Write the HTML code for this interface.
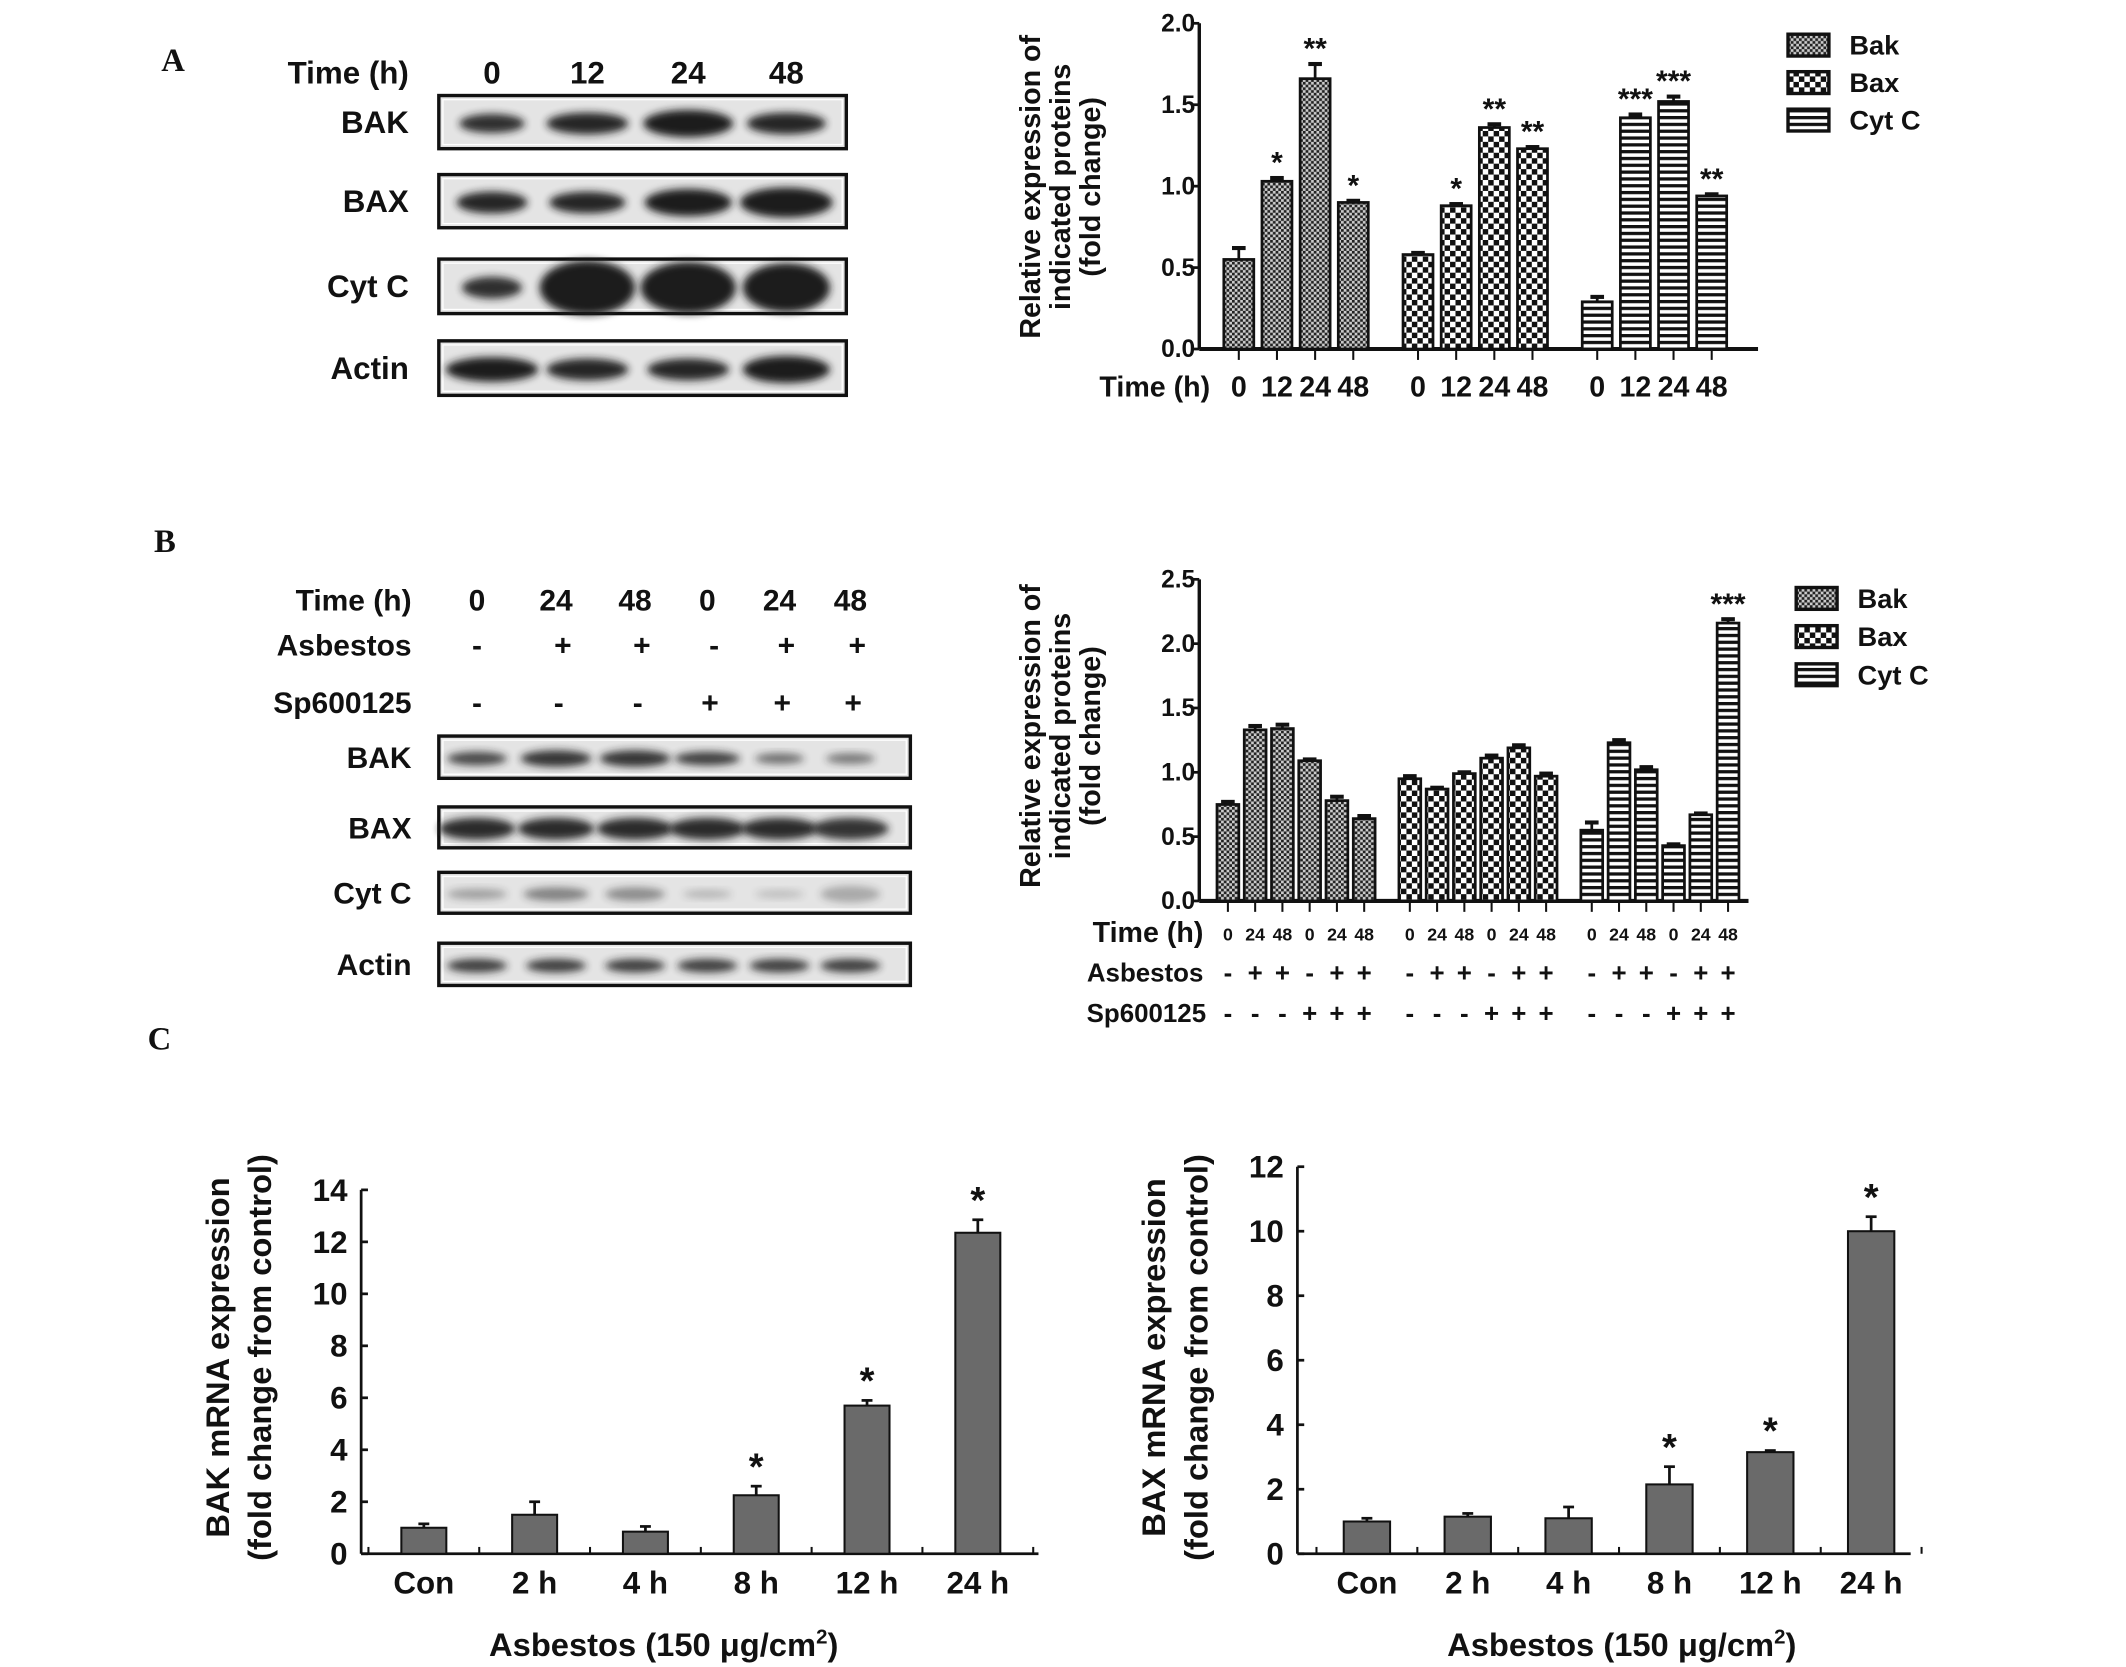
<!DOCTYPE html>
<html><head><meta charset="utf-8"><style>
html,body{margin:0;padding:0;background:#fff}
svg{display:block}
text{font-family:"Liberation Sans Narrow","Liberation Sans",Arial,sans-serif;font-weight:bold;fill:#111}
.w{font-family:"Liberation Sans",Arial,sans-serif}
</style></head><body>
<svg id="fig" xmlns="http://www.w3.org/2000/svg" width="2126" height="1667" viewBox="0 0 1560 1223">
<defs>
<pattern id="pBak" width="4" height="4" patternUnits="userSpaceOnUse"><rect width="4" height="4" fill="#ccc"/><rect width="2" height="2" fill="#222"/><rect x="2" y="2" width="2" height="2" fill="#222"/></pattern>
<pattern id="pBax" width="8" height="8" patternUnits="userSpaceOnUse"><rect width="8" height="8" fill="#fff"/><rect width="4" height="4" fill="#111"/><rect x="4" y="4" width="4" height="4" fill="#111"/></pattern>
<pattern id="pCyt" width="4" height="5" patternUnits="userSpaceOnUse"><rect width="4" height="5" fill="#fff"/><rect width="4" height="2.4" fill="#111"/></pattern>
<filter id="blur" x="-20%" y="-50%" width="140%" height="200%"><feGaussianBlur stdDeviation="3"/></filter>
</defs>
<g id="root"></g>
</svg>
<script>
// ---------- Panel A chart data ----------
const aGroups = ['Bak','Bax','Cyt C'];
const aTimes = ['0','12','24','48'];
const aBak = [0.55, 1.03, 1.66, 0.90];
const aBax = [0.58, 0.88, 1.36, 1.23];
const aCyt = [0.29, 1.42, 1.52, 0.94];
const aBakErr = [0.07, 0.02, 0.09, 0.01];
const aBaxErr = [0.01, 0.01, 0.02, 0.01];
const aCytErr = [0.03, 0.02, 0.03, 0.01];
const aBakSig = ['', '*', '**', '*'];
const aBaxSig = ['', '*', '**', '**'];
const aCytSig = ['', '***', '***', '**'];
const aTicks = ['0.0','0.5','1.0','1.5','2.0'];
// ---------- Panel B chart data ----------
const bTimes = ['0','24','48','0','24','48'];
const bAsb = ['-','+','+','-','+','+'];
const bSp = ['-','-','-','+','+','+'];
const bBak = [0.75, 1.33, 1.34, 1.09, 0.78, 0.64];
const bBax = [0.95, 0.87, 0.99, 1.11, 1.19, 0.97];
const bCyt = [0.55, 1.23, 1.02, 0.43, 0.67, 2.16];
const bBakErr = [0.02, 0.03, 0.03, 0.01, 0.03, 0.02];
const bBaxErr = [0.02, 0.01, 0.01, 0.02, 0.02, 0.02];
const bCytErr = [0.06, 0.02, 0.02, 0.01, 0.01, 0.03];
const bCytSig = ['', '', '', '', '', '***'];
const bTicks = ['0.0','0.5','1.0','1.5','2.0','2.5'];
// ---------- Panel C data ----------
const cCats = ['Con','2 h','4 h','8 h','12 h','24 h'];
const cBak = [1.0, 1.5, 0.85, 2.25, 5.7, 12.35];
const cBakErr = [0.15, 0.5, 0.2, 0.35, 0.2, 0.5];
const cBax = [1.0, 1.15, 1.1, 2.15, 3.15, 10.0];
const cBaxErr = [0.1, 0.1, 0.35, 0.55, 0.05, 0.45];
const cSig = ['', '', '', '*', '*', '*'];
const cBakTicks = [0,2,4,6,8,10,12,14];
const cBaxTicks = [0,2,4,6,8,10,12];

const NS='http://www.w3.org/2000/svg';
const root=document.getElementById('root');
function el(tag,attrs,parent,txt){const e=document.createElementNS(NS,tag);for(const k in attrs)e.setAttribute(k,attrs[k]);if(txt!==undefined)e.textContent=txt;(parent||root).appendChild(e);return e;}
function txt(x,y,s,size,anchor,parent,cls){const t=el('text',{x:x,y:y,'font-size':size,'text-anchor':anchor||'middle'},parent,s);if(cls)t.setAttribute('class',cls);return t;}

const la=txt(127,52,'A',24,'middle',root);la.setAttribute('style','font-family:"Liberation Serif",serif');


const lb=txt(121,405,'B',24,'middle',root);lb.setAttribute('style','font-family:"Liberation Serif",serif');


const lc=txt(117,770,'C',24,'middle',root);lc.setAttribute('style','font-family:"Liberation Serif",serif');



function blot(x0,x1,y0,y1,lanes,bands,name,dark){
  const g=el('g',{});
  
  
  el('rect',{x:x0,y:y0,width:x1-x0,height:y1-y0,fill:'#e4e4e4',stroke:'#111','stroke-width':2.5},g);
  el('rect',{x:x0+3,y:y0+3,width:x1-x0-6,height:y1-y0-6,fill:'none',stroke:'#fff','stroke-width':1},g);
  const cy=(y0+y1)/2;
  lanes.forEach((lx,i)=>{
    const b=bands[i];
    el('ellipse',{cx:lx,cy:cy+1,rx:b[0],ry:b[1],fill:dark,opacity:b[2],filter:'url(#blur)'},g);
  });
}
const aL=[361,431,505,577];
txt(300,61,'Time (h)',23,'end');
aTimes.forEach((t,i)=>txt(aL[i],61,t,23));
[['BAK',70,109,[[24,7,.9],[30,8,.95],[33,10,1],[29,8,.95]]],
 ['BAX',128,167,[[26,8,.95],[28,8,.95],[32,10,1],[34,11,1]]],
 ['Cyt C',190,230,[[22,8,.9],[35,20,1],[35,19,1],[32,18,1]]],
 ['Actin',250,290,[[34,9,1],[30,8,.95],[30,8,.95],[32,10,1]]]].forEach(r=>{
  txt(300,(r[1]+r[2])/2+8,r[0],23,'end');
  blot(322,621,r[1],r[2],aL,r[3],'blot-a-'+r[0].toLowerCase().replace(' ',''),'#1a1a1a');
});
const bL=[350,408,466,519,572,624];
txt(302,448,'Time (h)',22,'end');
bTimes.forEach((t,i)=>txt(bL[i],448,t,22));
txt(302,481,'Asbestos',22,'end');
bAsb.forEach((t,i)=>txt(bL[i]+(i?5:0),481,t,22));
txt(302,523,'Sp600125',22,'end');
bSp.forEach((t,i)=>txt(bL[i]+(i?2:0),523,t,22));
[['BAK',540,571,[[22,5,.8],[26,6,.9],[26,6,.9],[24,5,.85],[18,4,.6],[18,4,.55]]],
 ['BAX',592,622,[[28,8,.95],[28,8,.95],[28,8,.95],[28,8,.95],[28,8,.95],[28,8,.9]]],
 ['Cyt C',640,670,[[22,4,.35],[24,5,.5],[22,5,.45],[18,3,.25],[18,3,.2],[22,6,.3]]],
 ['Actin',692,723,[[22,5,.85],[22,5,.85],[22,5,.85],[22,5,.85],[22,5,.85],[22,5,.85]]]].forEach(r=>{
  txt(302,(r[1]+r[2])/2+8,r[0],22,'end');
  blot(322,668,r[1],r[2],bL,r[3],'blot-b-'+r[0].toLowerCase().replace(' ',''),'#222');
});

function groupedChart(cfg){
  const g=el('g',{});
  
  
  const y=v=>cfg.y0-(v/cfg.max)*(cfg.y0-cfg.yTop);
  const x=(gi,i)=>cfg.x0+gi*cfg.gStep+i*cfg.bStep;
  el('line',{x1:cfg.ax,y1:cfg.yTop,x2:cfg.ax,y2:cfg.y0,stroke:'#111','stroke-width':2.5},g);
  cfg.ticks.forEach(t=>{const v=parseFloat(t);
    el('line',{x1:cfg.ax-5,y1:y(v),x2:cfg.ax,y2:y(v),stroke:'#111','stroke-width':2},g);
    txt(cfg.ax-3,y(v)+6,t,18,'end',g);});
  el('line',{x1:cfg.ax,y1:cfg.y0,x2:cfg.axEnd,y2:cfg.y0,stroke:'#111','stroke-width':3},g);
  const pats=['url(#pBak)','url(#pBax)','url(#pCyt)'];
  cfg.series.forEach((s,gi)=>{
    s.vals.forEach((v,i)=>{
      const cx=x(gi,i);
      const bar=el('rect',{x:cx-cfg.bw/2,y:y(v),width:cfg.bw,height:cfg.y0-y(v),fill:pats[gi],stroke:'#111','stroke-width':2},g);
      
      
      const e=s.err[i];
      el('line',{x1:cx,y1:y(v),x2:cx,y2:y(v+e),stroke:'#111','stroke-width':2},g);
      el('line',{x1:cx-5,y1:y(v+e),x2:cx+5,y2:y(v+e),stroke:'#111','stroke-width':3},g);
      el('line',{x1:cx,y1:cfg.y0,x2:cx,y2:cfg.y0+8,stroke:'#111','stroke-width':1.5},g);
      if(s.sig&&s.sig[i]){txt(cx,y(v+e)-4,s.sig[i],22,'middle',g,'w');}
    });
  });
  cfg.legend.forEach((l,i)=>{
    const ly=cfg.legY+i*cfg.legStep;
    const sw=el('rect',{x:cfg.legX,y:ly-8,width:30,height:16,fill:pats[i],stroke:'#111','stroke-width':2.5},g);
    
    
    txt(cfg.legX+45,ly+7,l,20,'start',g);
  });
  const tx=cfg.titleX, ty=cfg.titleY;
  ['Relative expression of','indicated proteins','(fold change)'].forEach((s,i)=>{
    const t=txt(0,0,s,21,'middle',g,'w');t.setAttribute('transform','translate('+(tx+i*22)+','+ty+') rotate(-90)');
  });
  return {g,x};
}
const A=groupedChart({name:'chart-a',ax:880,axEnd:1290,y0:256,yTop:17,max:2.0,ticks:aTicks,
  x0:909,gStep:131.5,bStep:28,bw:22,legX:1312,legY:33,legStep:27.5,titleX:763,titleY:137,
  series:[{key:'bak',vals:aBak,err:aBakErr,sig:aBakSig},{key:'bax',vals:aBax,err:aBaxErr,sig:aBaxSig},{key:'cyt',vals:aCyt,err:aCytErr,sig:aCytSig}],
  legend:['Bak','Bax','Cyt C']});
txt(888,291,'Time (h)',21,'end',A.g);
aGroups.forEach((gname,gi)=>aTimes.forEach((t,i)=>txt(A.x(gi,i),291,t,21,'middle',A.g)));

const B=groupedChart({name:'chart-b',ax:880,axEnd:1283,y0:661,yTop:425,max:2.5,ticks:bTicks,
  x0:901,gStep:133.5,bStep:20,bw:16,legX:1318,legY:439,legStep:28,titleX:763,titleY:540,
  series:[{key:'bak',vals:bBak,err:bBakErr},{key:'bax',vals:bBax,err:bBaxErr},{key:'cyt',vals:bCyt,err:bCytErr,sig:bCytSig}],
  legend:['Bak','Bax','Cyt C']});
txt(883,691,'Time (h)',21,'end',B.g);
txt(883,720,'Asbestos',19,'end',B.g);
txt(885,750,'Sp600125',19,'end',B.g);
[0,1,2].forEach(gi=>bTimes.forEach((t,i)=>{
  txt(B.x(gi,i),690,t,13,'middle',B.g);
  txt(B.x(gi,i),720,bAsb[i],19,'middle',B.g);
  txt(B.x(gi,i),750,bSp[i],19,'middle',B.g);
}));

function simpleChart(cfg){
  const g=el('g',{});
  
  
  const max=cfg.ticks[cfg.ticks.length-1];
  const y=v=>cfg.y0-(v/max)*(cfg.y0-cfg.yTop);
  const x=i=>cfg.x0+i*cfg.step;
  el('line',{x1:cfg.ax,y1:cfg.yTop,x2:cfg.ax,y2:cfg.y0,stroke:'#111','stroke-width':2},g);
  el('line',{x1:cfg.ax,y1:cfg.y0,x2:cfg.axEnd,y2:cfg.y0,stroke:'#111','stroke-width':2},g);
  cfg.ticks.forEach(t=>{
    el('line',{x1:cfg.ax,y1:y(t),x2:cfg.ax+5,y2:y(t),stroke:'#111','stroke-width':2},g);
    txt(cfg.ax-10,y(t)+8,String(t),23,'end',g);
  });
  for(let i=0;i<=cfg.vals.length;i++){const bx=cfg.x0-cfg.step/2+i*cfg.step;
    el('line',{x1:bx,y1:cfg.y0,x2:bx,y2:cfg.y0-5,stroke:'#111','stroke-width':1.5},g);}
  cfg.vals.forEach((v,i)=>{
    const cx=x(i);
    const bar=el('rect',{x:cx-cfg.bw/2,y:y(v),width:cfg.bw,height:cfg.y0-y(v),fill:'#6a6a6a',stroke:'#111','stroke-width':1.5},g);
    
    
    const e=cfg.err[i];
    el('line',{x1:cx,y1:y(v),x2:cx,y2:y(v+e),stroke:'#111','stroke-width':2},g);
    el('line',{x1:cx-4,y1:y(v+e),x2:cx+4,y2:y(v+e),stroke:'#111','stroke-width':2},g);
    if(cfg.sig[i]) txt(cx,y(v+e)-5,cfg.sig[i],28,'middle',g,'w');
    txt(cx,cfg.y0+29,cfg.cats[i],23,'middle',g);
  });
  const t1=txt(0,0,cfg.title,24,'middle',g,'w');t1.setAttribute('transform','translate('+cfg.tx+','+cfg.ty+') rotate(-90)');
  const t2=txt(0,0,'(fold change from control)',24,'middle',g,'w');t2.setAttribute('transform','translate('+(cfg.tx+31)+','+cfg.ty+') rotate(-90)');
  const xt=el('text',{x:cfg.xtX,y:1215,'font-size':24,'text-anchor':'middle'},g);
  xt.appendChild(document.createTextNode('Asbestos (150 μg/cm'));
  el('tspan',{'font-size':15,dy:-9},xt,'2');
  el('tspan',{'font-size':24,dy:9},xt,')');
}
simpleChart({name:'chart-c-bak',key:'bak',ax:265,axEnd:762,y0:1140,yTop:873,ticks:cBakTicks,x0:311,step:81.3,bw:33,
  vals:cBak,err:cBakErr,sig:cSig,cats:cCats,title:'BAK mRNA expression',tx:168,ty:996,xtX:487});
simpleChart({name:'chart-c-bax',key:'bax',ax:952,axEnd:1402,y0:1140,yTop:856,ticks:cBaxTicks,x0:1003,step:74,bw:34,
  vals:cBax,err:cBaxErr,sig:cSig,cats:cCats,title:'BAX mRNA expression',tx:855,ty:996,xtX:1190});
</script>
</body></html>
